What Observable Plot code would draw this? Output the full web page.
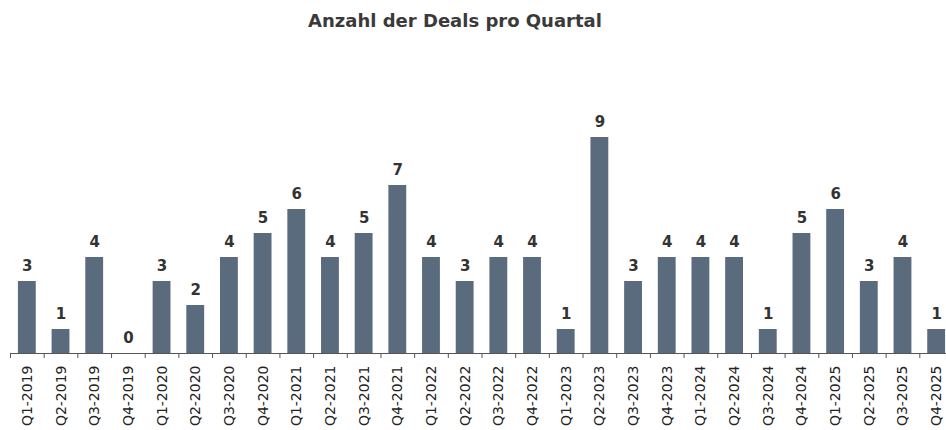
<!DOCTYPE html>
<html>
<head>
<meta charset="utf-8">
<script src="https://cdn.jsdelivr.net/npm/d3@7"></script>
<script src="https://cdn.jsdelivr.net/npm/@observablehq/plot@0.6"></script>
<style>
  html, body { margin: 0; padding: 0; background: #fff; overflow: hidden; }
  #title { font-family: "DejaVu Sans", sans-serif; font-weight: bold; font-size: 18px; color: #3a3a3a;
           height: 40px; box-sizing: border-box; padding-top: 10px; width: 946px; padding-right: 36px;
           text-align: center; line-height: normal; }
</style>
</head>
<body>
<div id="title">Anzahl der Deals pro Quartal</div>
<div id="chart"></div>
<script>
const quarters = ["Q1-2019","Q2-2019","Q3-2019","Q4-2019","Q1-2020","Q2-2020","Q3-2020","Q4-2020",
  "Q1-2021","Q2-2021","Q3-2021","Q4-2021","Q1-2022","Q2-2022","Q3-2022","Q4-2022",
  "Q1-2023","Q2-2023","Q3-2023","Q4-2023","Q1-2024","Q2-2024","Q3-2024","Q4-2024",
  "Q1-2025","Q2-2025","Q3-2025","Q4-2025"];
const deals = [3,1,4,0,3,2,4,5,6,4,5,7,4,3,4,4,1,9,3,4,4,4,1,5,6,3,4,1];

const data = quarters.map((q, i) => ({quarter: q, deals: deals[i]}));

const chart = Plot.plot({
  width: 946,
  height: 390,
  marginLeft: 10,
  marginRight: -7,
  marginTop: 73,
  marginBottom: 77,
  style: {fontFamily: "DejaVu Sans, sans-serif", color: "#333", background: "#fff"},
  x: {domain: quarters, paddingInner: 0.47, paddingOuter: 0.235, round: false, label: null},
  y: {domain: [0, 10], axis: null},
  marks: [
    Plot.barY(data, {x: "quarter", y: "deals", fill: "#5b6b7e"}),
    Plot.ruleY([0], {stroke: "#555", strokeWidth: 1}),
    Plot.ruleX(quarters, {x: d => d, y1: 0, y2: 0, insetBottom: -5, dx: -16.84, stroke: "#555"}),
    Plot.text(data, {x: "quarter", y: "deals", text: d => String(d.deals), dy: -11, lineAnchor: "bottom",
      fontWeight: "bold", fontSize: 15, fill: "#333"}),
    Plot.axisX({tickSize: 0, tickPadding: 12, tickRotate: -90, fontSize: 14, label: null, fill: "#222"})
  ]
});
document.getElementById("chart").appendChild(chart);
</script>
</body>
</html>
